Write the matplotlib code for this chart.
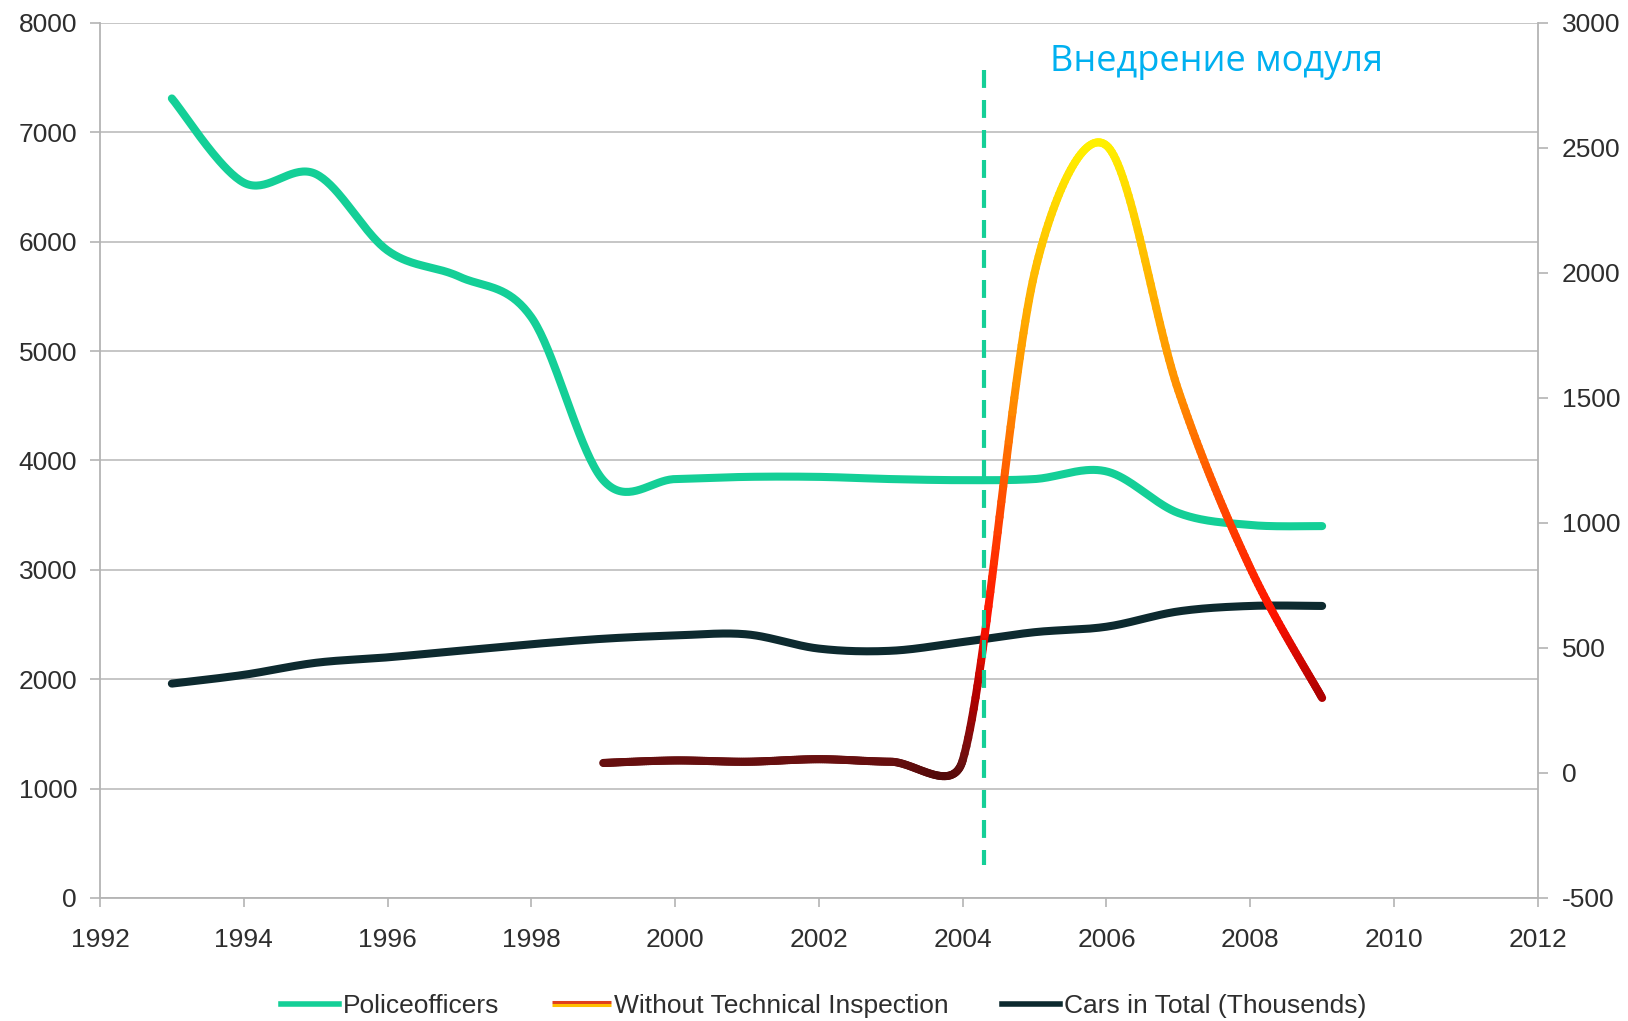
import numpy as np
import matplotlib
matplotlib.use('Agg')
import matplotlib.pyplot as plt
from matplotlib.collections import LineCollection
from matplotlib.colors import LinearSegmentedColormap, Normalize
from matplotlib.legend_handler import HandlerBase
from matplotlib.lines import Line2D

# Data
years_police = list(range(1993, 2010))
police = [7310, 6540, 6620, 5920, 5680, 5310, 3820, 3830, 3850, 3850,
          3830, 3820, 3830, 3900, 3520, 3410, 3400]

years_cars = list(range(1993, 2010))
cars = [1960, 2040, 2150, 2200, 2260, 2320, 2370, 2400, 2410, 2280,
        2260, 2340, 2430, 2480, 2620, 2670, 2670]

years_noinsp = list(range(1999, 2010))
noinsp = [40, 50, 45, 55, 45, 50, 2000, 2510, 1530, 820, 300]

x_ticks = list(range(1992, 2013, 2))
left_ticks = list(range(0, 8001, 1000))
right_ticks = list(range(-500, 3001, 500))

label_police = 'Policeofficers'
label_noinsp = 'Without Technical Inspection'
label_cars = 'Cars in Total (Thousends)'
note_text = 'Внедрение модуля'
note_year = 2004.3

TEAL = '#14cf97'
DARK = '#0d2a2f'
GRID = '#c6c6c6'
SPINE = '#b4b4b4'
TXT = '#2e2e2e'

plt.rcParams['font.family'] = ['Liberation Sans', 'DejaVu Sans']
plt.rcParams['axes.unicode_minus'] = False


def smooth(xs, ys, trans, n=40):
    # Excel-like smoothed line: Bezier segments with Catmull-Rom control points
    P = trans.transform(np.column_stack([xs, ys]))
    m = len(P)
    out = [P[:1]]
    for i in range(m - 1):
        p0, p3 = P[i], P[i + 1]
        prev = P[i - 1] if i > 0 else P[i]
        nxt = P[i + 2] if i + 2 < m else P[i + 1]
        chord = np.linalg.norm(p3 - p0)
        t1 = (p3 - prev) / 6.0
        t2 = (nxt - p0) / 6.0
        for t in (t1, t2):
            L = np.linalg.norm(t)
            if L > chord / 2:
                t *= (chord / 2) / L
        p1 = p0 + t1
        p2 = p3 - t2
        s = np.linspace(0, 1, n)[1:, None]
        seg = ((1 - s) ** 3 * p0 + 3 * (1 - s) ** 2 * s * p1
               + 3 * (1 - s) * s ** 2 * p2 + s ** 3 * p3)
        out.append(seg)
    return trans.inverted().transform(np.vstack(out))


class GradientHandler(HandlerBase):
    def create_artists(self, legend, orig, xd, yd, w, h, fontsize, trans):
        y = h / 2 - yd
        top = Line2D([-xd, -xd + w], [y + 1.1, y + 1.1], color='#e0401a',
                     lw=2.2, transform=trans, solid_capstyle='butt')
        bot = Line2D([-xd, -xd + w], [y - 1.1, y - 1.1], color='#ffc000',
                     lw=2.2, transform=trans, solid_capstyle='butt')
        return [top, bot]


fig = plt.figure(figsize=(16.28, 10.21), dpi=100)
ax = fig.add_axes([0.0614, 0.1205, 0.8832, 0.857])
ax2 = ax.twinx()

ax.set_xlim(1992, 2012)
ax.set_ylim(0, 8000)
ax2.set_ylim(-500, 3000)
ax.set_xticks(x_ticks)
ax.set_yticks(left_ticks)
ax2.set_yticks(right_ticks)

ax.yaxis.grid(True, color=GRID, lw=1.4)
ax.set_axisbelow(True)

for sp in ['top', 'right']:
    ax.spines[sp].set_visible(False)
for sp in ['top', 'left', 'bottom']:
    ax2.spines[sp].set_visible(False)
for a, sp in [(ax, 'left'), (ax, 'bottom'), (ax2, 'right')]:
    a.spines[sp].set_color(SPINE)
    a.spines[sp].set_linewidth(1.3)

ax.tick_params(axis='y', length=7.5, width=1.2, color=SPINE, pad=9,
               labelsize=19, labelcolor=TXT)
ax.tick_params(axis='x', length=6.5, width=1.2, color=SPINE, pad=15,
               labelsize=19, labelcolor=TXT)
ax2.tick_params(axis='y', length=7.5, width=1.2, color=SPINE, pad=10,
                labelsize=19, labelcolor=TXT)

# Policeofficers and cars on the left axis
pp = smooth(years_police, police, ax.transData)
ax.plot(pp[:, 0], pp[:, 1], color=TEAL, lw=5.8, solid_capstyle='round',
        solid_joinstyle='round', zorder=3)
cp = smooth(years_cars, cars, ax.transData)
ax.plot(cp[:, 0], cp[:, 1], color=DARK, lw=5.8, solid_capstyle='round',
        solid_joinstyle='round', zorder=3)

# Without technical inspection on the right axis, coloured by value
cmap = LinearSegmentedColormap.from_list('heat', [
    (0.00, '#4a0606'),
    (0.04, '#6a1010'),
    (0.14, '#b00000'),
    (0.26, '#ff1200'),
    (0.47, '#ff5500'),
    (0.60, '#ff8c00'),
    (0.78, '#ffb400'),
    (1.00, '#fff000'),
])
norm = Normalize(-50, 2520)
gp = smooth(years_noinsp, noinsp, ax2.transData)
segs = np.stack([gp[:-1], gp[1:]], axis=1)
mid = (gp[:-1, 1] + gp[1:, 1]) / 2
lc = LineCollection(segs, colors=cmap(norm(mid)), linewidths=5.8,
                    capstyle='round', joinstyle='round', zorder=3)
ax2.add_collection(lc)

# Vertical dashed marker and note
ax2.plot([note_year, note_year], [7570, 300], transform=ax.transData,
         color=TEAL, lw=3, dashes=(4.3, 2.9), zorder=5)
ax.text(2007.53, 7640, note_text, color='#00b0f0', fontsize=26,
        family=['Open Sans', 'DejaVu Sans'], ha='center', va='center')

handles = [
    Line2D([], [], color=TEAL, lw=4),
    Line2D([], [], color='#ff8000', lw=4),
    Line2D([], [], color=DARK, lw=4),
]
leg = fig.legend(handles, [label_police, label_noinsp, label_cars],
                 loc='center', bbox_to_anchor=(0.506, 0.0147), ncol=3,
                 frameon=False, fontsize=19, handlelength=2.2,
                 handletextpad=0.15, columnspacing=2.0,
                 handler_map={handles[1]: GradientHandler()})
for t in leg.get_texts():
    t.set_color(TXT)

fig.savefig('out.png', dpi=100)
